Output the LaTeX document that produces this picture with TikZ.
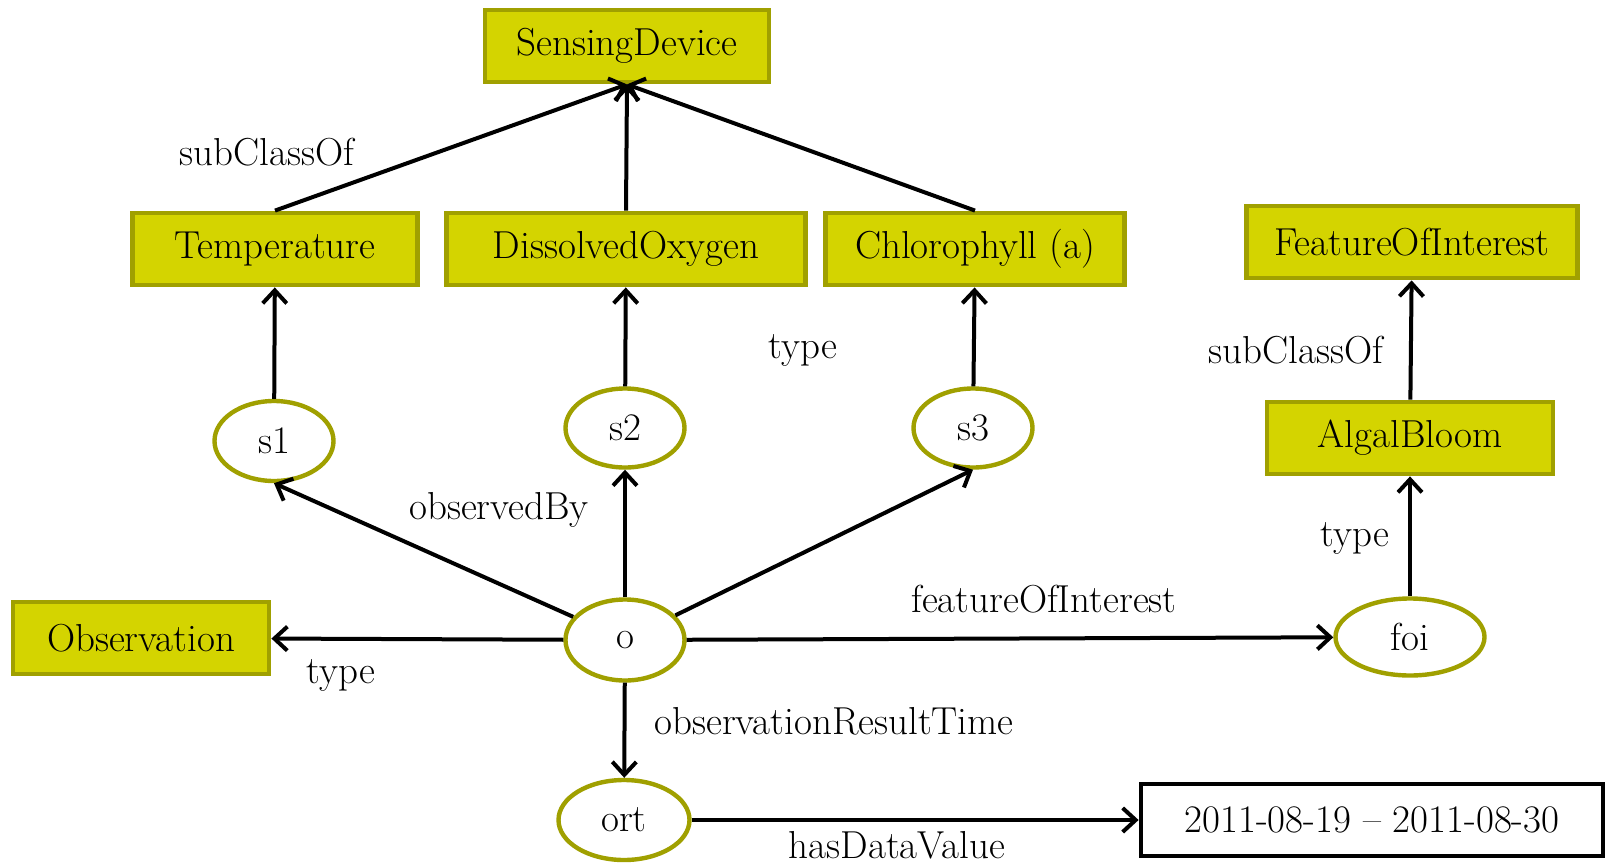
\documentclass[tikz,border=0pt]{standalone}
\usepackage{tikz}
\usetikzlibrary{shapes.geometric}
\usetikzlibrary{arrows.meta}
\definecolor{classfill}{RGB}{212,212,0}
\definecolor{classline}{RGB}{160,160,0}
\tikzset{every picture/.style={line width=2pt},
  class/.style={draw=classline,fill=classfill,line width=2.4pt,minimum height=36pt,inner sep=0pt,font=\fontsize{19.5}{23}\selectfont},
  inst/.style={ellipse,draw=classline,fill=white,line width=2.2pt,inner sep=0pt,font=\fontsize{19.5}{23}\selectfont},
  literal/.style={draw=black,fill=white,line width=2.4pt,minimum height=36pt,inner sep=0pt,font=\fontsize{19.5}{23}\selectfont},
  lbl/.style={font=\fontsize{19.5}{23}\selectfont},
  rel/.style={-{Straight Barb[length=6.5pt,width=12pt]}}}
\begin{document}
\begin{tikzpicture}[x=0.5pt,y=-0.5pt]
\useasboundingbox (0,0) rectangle (1608,868);
\node[class,minimum width=142pt] (sd) at (627,46) {SensingDevice};
\node[class,minimum width=142.5pt] (temp) at (275,249) {Temperature};
\node[class,minimum width=179.5pt] (dox) at (626,249) {DissolvedOxygen};
\node[class,minimum width=149.5pt] (chl) at (975,249) {Chlorophyll (a)};
\node[class,minimum width=165.5pt] (foiclass) at (1412,242) {FeatureOfInterest};
\node[class,minimum width=143pt] (algal) at (1410,438) {AlgalBloom};
\node[class,minimum width=128pt] (obs) at (141,638) {Observation};
\node[literal,minimum width=231pt] (date) at (1372,820) {2011-08-19 -- 2011-08-30};
\node[inst,minimum width=59.5pt,minimum height=40pt] (s1) at (274,441) {s1};
\node[inst,minimum width=59.5pt,minimum height=39.5pt] (s2) at (625,428) {s2};
\node[inst,minimum width=59.5pt,minimum height=39.5pt] (s3) at (973,428) {s3};
\node[inst,minimum width=59.5pt,minimum height=40.5pt] (o) at (625,640) {o};
\node[inst,minimum width=74.5pt,minimum height=38.5pt] (foi) at (1410,637) {foi};
\node[inst,minimum width=65.5pt,minimum height=40pt] (ort) at (624,820) {ort};

\draw[rel] (temp.north) -- (sd.south);
\draw[rel] (dox.north) -- (sd.south);
\draw[rel] (chl.north) -- (sd.south);
\draw[rel] (s1) -- (temp);
\draw[rel] (s2) -- (dox);
\draw[rel] (s3) -- (chl);
\draw[rel] (o) -- (s1.south);
\draw[rel] (o) -- (s2);
\draw[rel] (o) -- (s3.south);
\draw[rel] (o) -- (obs);
\draw[rel] (o) -- (foi);
\draw[rel] (o) -- (ort);
\draw[rel] (ort) -- (date);
\draw[rel] (foi) -- (algal);
\draw[rel] (algal) -- (foiclass);

\node[lbl] (l1) at (267,152) {subClassOf};
\node[lbl] (l2) at (803,350) {type};
\node[lbl] (l3) at (1296,350) {subClassOf};
\node[lbl] (l4) at (499,510) {observedBy};
\node[lbl] (l5) at (1355,538) {type};
\node[lbl] (l6) at (1044,599) {featureOfInterest};
\node[lbl] (l7) at (341,675) {type};
\node[lbl] (l8) at (834,721) {observationResultTime};
\node[lbl] (l9) at (897,845) {hasDataValue};
\end{tikzpicture}
\end{document}
